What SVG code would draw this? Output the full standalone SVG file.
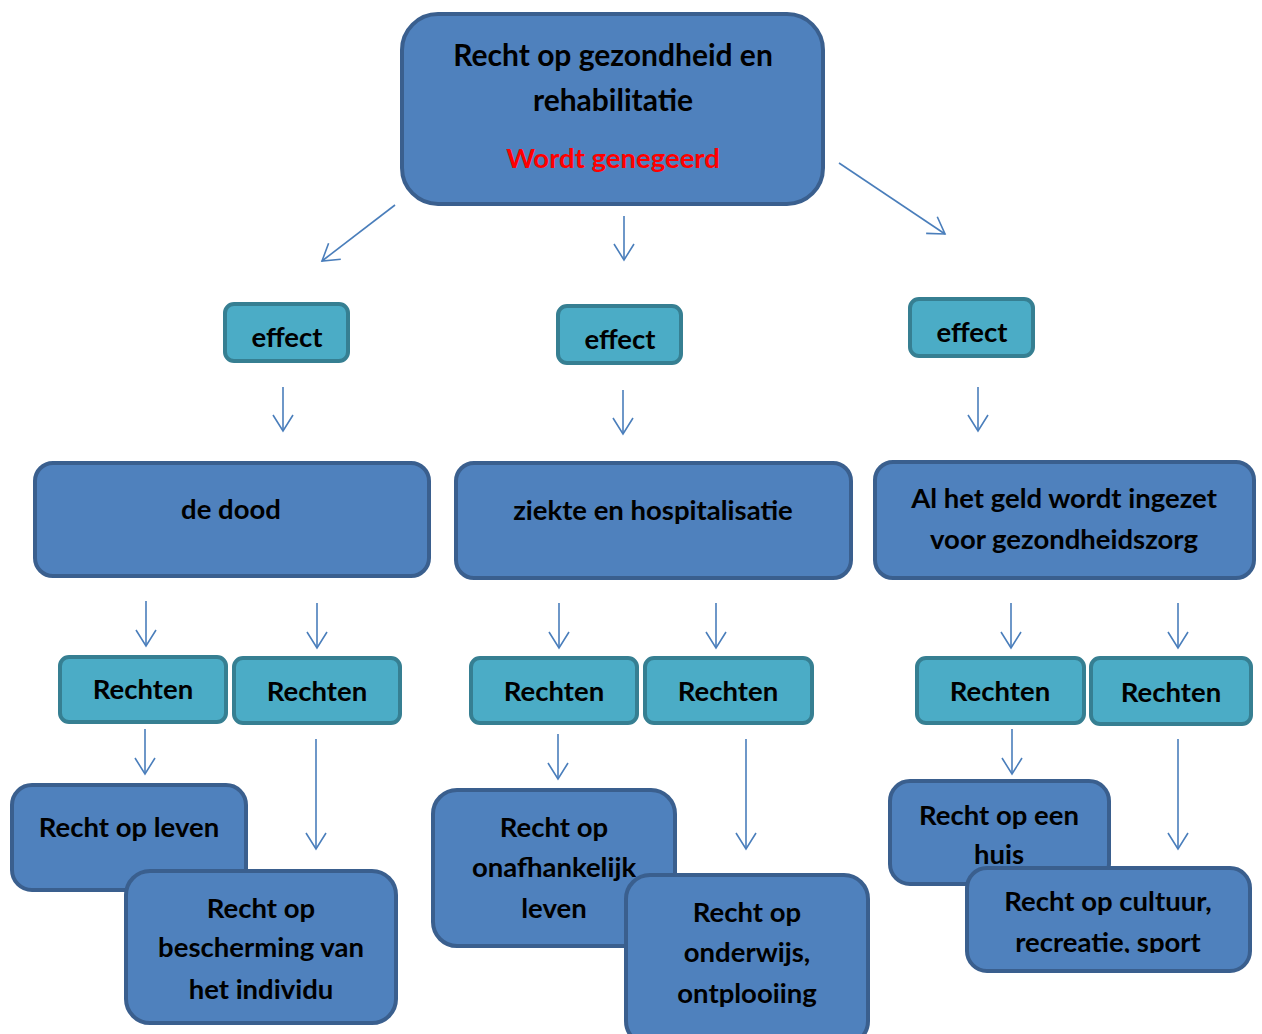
<svg xmlns="http://www.w3.org/2000/svg" width="1262" height="1034" viewBox="0 0 1262 1034">
<style>
.big{fill:#4F81BD;stroke:#3A5F8E;stroke-width:4}
.small{fill:#4BACC6;stroke:#367F92;stroke-width:4}
text{font-family:Lato,"Open Sans","Liberation Sans",sans-serif;font-weight:bold;font-size:27.5px;fill:#000;text-anchor:middle}
.title{font-size:30px}
.red{fill:#FF0000;font-size:27.5px}
.conn line{stroke:#4A7EBB;stroke-width:1.6;marker-end:url(#ah)}
</style>
<defs>
<marker id="ah" markerUnits="userSpaceOnUse" markerWidth="20" markerHeight="24" refX="17" refY="11" orient="auto">
<path d="M1,1 L17,11 L1,21" fill="none" stroke="#4A7EBB" stroke-width="1.6"/>
</marker>
<clipPath id="clipSport"><rect x="960" y="860" width="300" height="93"/></clipPath>
</defs>
<rect width="1262" height="1034" fill="#fff"/>

<g id="top">
<rect class="big" x="402" y="14" width="421" height="190" rx="36"/>
<text class="title" x="613" y="66">Recht op gezondheid en</text>
<text class="title" x="613" y="111">rehabilitatie</text>
<text class="red" x="613" y="168">Wordt genegeerd</text>
</g>

<g id="effect1"><rect class="small" x="225" y="304" width="123" height="57" rx="9"/><text x="287" y="347">effect</text></g>
<g id="effect2"><rect class="small" x="558" y="306" width="123" height="57" rx="9"/><text x="620" y="349">effect</text></g>
<g id="effect3"><rect class="small" x="910" y="299" width="123" height="57" rx="9"/><text x="972" y="342">effect</text></g>

<g id="dood"><rect class="big" x="35" y="463" width="394" height="113" rx="18"/><text x="231" y="519">de dood</text></g>
<g id="ziekte"><rect class="big" x="456" y="463" width="395" height="115" rx="18"/><text x="653" y="520">ziekte en hospitalisatie</text></g>
<g id="geld"><rect class="big" x="875" y="462" width="379" height="116" rx="18"/><text x="1064" y="508">Al het geld wordt ingezet</text><text x="1064" y="549">voor gezondheidszorg</text></g>

<g id="rechten1"><rect class="small" x="60" y="657" width="166" height="65" rx="9"/><text x="143" y="699">Rechten</text></g>
<g id="rechten2"><rect class="small" x="234" y="658" width="166" height="65" rx="9"/><text x="317" y="701">Rechten</text></g>
<g id="rechten3"><rect class="small" x="471" y="658" width="166" height="65" rx="9"/><text x="554" y="701">Rechten</text></g>
<g id="rechten4"><rect class="small" x="645" y="658" width="167" height="65" rx="9"/><text x="728" y="701">Rechten</text></g>
<g id="rechten5"><rect class="small" x="917" y="658" width="167" height="65" rx="9"/><text x="1000" y="701">Rechten</text></g>
<g id="rechten6"><rect class="small" x="1091" y="658" width="160" height="66" rx="9"/><text x="1171" y="702">Rechten</text></g>

<g id="leven"><rect class="big" x="12" y="785" width="234" height="105" rx="20"/><text x="129" y="837">Recht op leven</text></g>
<g id="bescherming"><rect class="big" x="126" y="871" width="270" height="152" rx="24"/><text x="261" y="918">Recht op</text><text x="261" y="957">bescherming van</text><text x="261" y="999">het individu</text></g>

<g id="onafhankelijk"><rect class="big" x="433" y="790" width="242" height="156" rx="24"/><text x="554" y="837">Recht op</text><text x="554" y="877">onafhankelijk</text><text x="554" y="918">leven</text></g>
<g id="onderwijs"><rect class="big" x="626" y="875" width="242" height="170" rx="24"/><text x="747" y="922">Recht op</text><text x="747" y="962">onderwijs,</text><text x="747" y="1003">ontplooiing</text></g>

<g id="huis"><rect class="big" x="890" y="781" width="219" height="103" rx="20"/><text x="999" y="825">Recht op een</text><text x="999" y="864">huis</text></g>
<g id="cultuur"><rect class="big" x="967" y="868" width="283" height="103" rx="20"/><text x="1108" y="911">Recht op cultuur,</text><text x="1108" y="952" clip-path="url(#clipSport)">recreatie, sport</text></g>

<g id="connectors" class="conn">
<line x1="395" y1="205" x2="322" y2="261"/>
<line x1="624" y1="216" x2="624" y2="260"/>
<line x1="839" y1="163" x2="945" y2="234"/>
<line x1="283" y1="387" x2="283" y2="431"/>
<line x1="623" y1="390" x2="623" y2="434"/>
<line x1="978" y1="387" x2="978" y2="431"/>
<line x1="146" y1="601" x2="146" y2="646"/>
<line x1="317" y1="603" x2="317" y2="648"/>
<line x1="559" y1="603" x2="559" y2="648"/>
<line x1="716" y1="603" x2="716" y2="648"/>
<line x1="1011" y1="603" x2="1011" y2="648"/>
<line x1="1178" y1="603" x2="1178" y2="648"/>
<line x1="145" y1="729" x2="145" y2="774"/>
<line x1="316" y1="739" x2="316" y2="849"/>
<line x1="558" y1="734" x2="558" y2="779"/>
<line x1="746" y1="739" x2="746" y2="849"/>
<line x1="1012" y1="729" x2="1012" y2="774"/>
<line x1="1178" y1="739" x2="1178" y2="849"/>
</g>
</svg>
